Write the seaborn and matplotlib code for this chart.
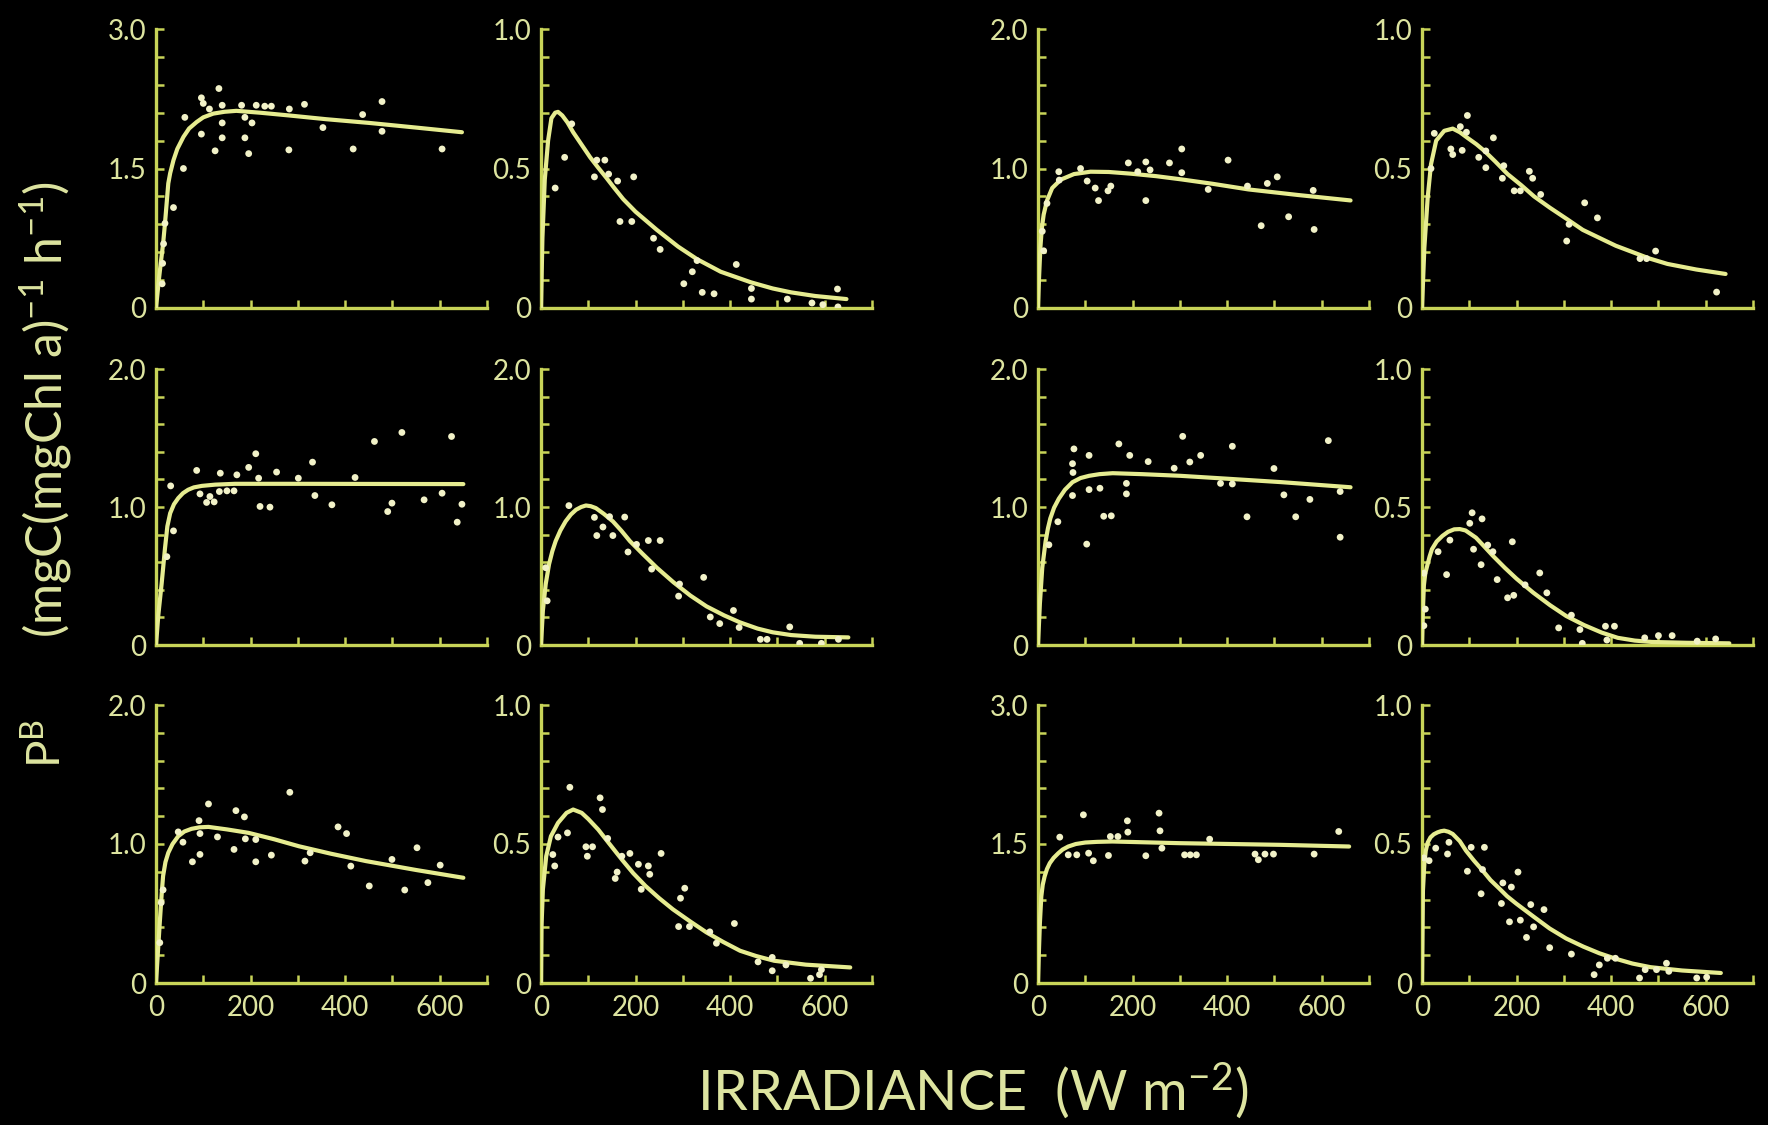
import matplotlib
matplotlib.use("Agg")
import matplotlib.pyplot as plt
import seaborn as sns
from matplotlib.ticker import FixedLocator, FixedFormatter

# ---------------- data ----------------
# Panel 1 (row 1, col 1)
p1_x = [61, 96, 100, 113, 133, 140, 140, 140, 125, 96, 181, 188, 188, 203, 196, 212, 230, 244, 282, 281, 314, 353, 417, 437, 478, 478, 605, 58, 37, 19, 16, 14, 13]
p1_y = [2.05, 2.26, 2.20, 2.14, 2.36, 2.18, 1.99, 1.83, 1.69, 1.87, 2.18, 2.05, 1.83, 1.99, 1.66, 2.18, 2.17, 2.17, 2.14, 1.70, 2.19, 1.94, 1.71, 2.08, 2.22, 1.90, 1.71, 1.50, 1.08, 0.91, 0.69, 0.48, 0.26]
c1_x = [0, 3, 6, 10, 15, 19, 26, 30, 37, 45, 58, 70, 86, 100, 121, 145, 170, 220, 282, 360, 451, 550, 647]
c1_y = [0, 0.15, 0.30, 0.48, 0.69, 0.91, 1.34, 1.45, 1.59, 1.71, 1.84, 1.93, 2.00, 2.05, 2.09, 2.11, 2.12, 2.10, 2.07, 2.03, 1.99, 1.94, 1.89]

# Panel 2 (row 1, col 2)
p2_x = [30, 50, 65, 113, 118, 135, 143, 162, 196, 167, 192, 238, 252, 330, 320, 302, 341, 366, 413, 445, 445, 521, 573, 627, 628, 596]
p2_y = [0.43, 0.54, 0.66, 0.47, 0.53, 0.53, 0.48, 0.455, 0.47, 0.31, 0.31, 0.25, 0.21, 0.17, 0.13, 0.087, 0.056, 0.051, 0.156, 0.07, 0.032, 0.032, 0.018, 0.068, 0.004, 0.012]
c2_x = [0, 3, 8, 15, 22, 30, 36, 45, 56, 68, 90, 104, 120, 139, 155, 174, 200, 245, 290, 330, 380, 444, 490, 529, 580, 646]
c2_y = [0, 0.25, 0.46, 0.60, 0.68, 0.70, 0.703, 0.69, 0.665, 0.63, 0.575, 0.54, 0.505, 0.465, 0.43, 0.39, 0.345, 0.28, 0.22, 0.175, 0.13, 0.092, 0.07, 0.056, 0.043, 0.032]

# Panel 3 (row 1, col 3)
p3_x = [44, 45, 90, 104, 121, 128, 148, 154, 191, 211, 228, 237, 228, 278, 304, 304, 360, 402, 443, 485, 506, 472, 530, 582, 584, 19, 12, 9]
p3_y = [0.977, 0.917, 1.0, 0.91, 0.86, 0.77, 0.84, 0.874, 1.04, 0.977, 1.047, 0.99, 0.77, 1.04, 1.14, 0.97, 0.85, 1.06, 0.874, 0.893, 0.94, 0.59, 0.654, 0.843, 0.563, 0.75, 0.41, 0.55]
c3_x = [0, 2, 5, 8, 12, 19, 30, 48, 76, 111, 150, 196, 250, 303, 370, 445, 550, 661]
c3_y = [0, 0.2, 0.43, 0.57, 0.67, 0.77, 0.86, 0.92, 0.96, 0.977, 0.975, 0.963, 0.945, 0.922, 0.89, 0.85, 0.81, 0.771]

# Panel 4 (row 1, col 4)
p4_x = [26, 61, 65, 85, 81, 94, 96, 151, 120, 135, 135, 173, 170, 195, 208, 227, 234, 251, 344, 371, 311, 306, 461, 475, 494, 623, 19]
p4_y = [0.626, 0.57, 0.55, 0.565, 0.65, 0.63, 0.69, 0.61, 0.54, 0.563, 0.503, 0.51, 0.465, 0.42, 0.42, 0.49, 0.465, 0.407, 0.377, 0.323, 0.30, 0.24, 0.177, 0.177, 0.204, 0.057, 0.50]
c4_x = [0, 5, 12, 19, 30, 47, 65, 80, 96, 115, 132, 155, 181, 210, 237, 270, 308, 340, 378, 410, 449, 480, 519, 580, 642]
c4_y = [0, 0.216, 0.395, 0.515, 0.60, 0.635, 0.643, 0.63, 0.61, 0.587, 0.563, 0.525, 0.48, 0.44, 0.40, 0.36, 0.317, 0.28, 0.249, 0.223, 0.198, 0.178, 0.158, 0.138, 0.122]

# Panel 5 (row 2, col 1)
p5_x = [31, 86, 93, 107, 123, 114, 136, 134, 150, 165, 171, 196, 211, 220, 241, 217, 255, 301, 331, 336, 372, 421, 462, 490, 499, 520, 567, 605, 625, 637, 647, 37, 23]
p5_y = [1.153, 1.265, 1.095, 1.033, 1.037, 1.076, 1.245, 1.112, 1.117, 1.117, 1.233, 1.287, 1.386, 1.004, 0.999, 1.209, 1.253, 1.209, 1.325, 1.083, 1.016, 1.214, 1.475, 0.967, 1.028, 1.54, 1.052, 1.10, 1.511, 0.89, 1.02, 0.827, 0.64]
c5_x = [0, 5, 12, 19, 24, 30, 38, 47, 57, 68, 80, 97, 125, 167, 300, 650]
c5_y = [0, 0.22, 0.447, 0.70, 0.86, 0.955, 1.02, 1.064, 1.10, 1.125, 1.142, 1.153, 1.162, 1.168, 1.168, 1.166]

# Panel 6 (row 2, col 2)
p6_x = [59, 113, 131, 145, 152, 118, 177, 184, 202, 227, 252, 234, 293, 291, 344, 358, 378, 407, 419, 464, 478, 526, 547, 593, 629, 10, 13]
p6_y = [1.01, 0.925, 0.855, 0.93, 0.793, 0.793, 0.927, 0.674, 0.729, 0.757, 0.757, 0.55, 0.442, 0.354, 0.49, 0.203, 0.155, 0.25, 0.127, 0.041, 0.041, 0.131, 0.012, 0.012, 0.041, 0.56, 0.32]
c6_x = [0, 4, 10, 17, 24, 31, 41, 52, 63, 74, 85, 95, 105, 116, 133, 152, 170, 188, 215, 245, 280, 316, 350, 387, 420, 458, 490, 529, 580, 650]
c6_y = [0, 0.25, 0.442, 0.585, 0.68, 0.753, 0.83, 0.896, 0.945, 0.98, 1.0, 1.011, 1.006, 0.992, 0.95, 0.896, 0.828, 0.753, 0.66, 0.56, 0.455, 0.358, 0.28, 0.215, 0.165, 0.119, 0.092, 0.072, 0.06, 0.055]

# Panel 7 (row 2, col 3)
p7_x = [42, 23, 76, 73, 74, 73, 103, 108, 108, 131, 139, 155, 171, 187, 187, 194, 233, 288, 306, 321, 344, 386, 411, 411, 442, 499, 520, 545, 575, 614, 639, 639]
p7_y = [0.893, 0.726, 1.421, 1.314, 1.25, 1.083, 0.731, 1.374, 1.126, 1.136, 0.933, 0.936, 1.457, 1.171, 1.095, 1.374, 1.329, 1.281, 1.512, 1.326, 1.374, 1.171, 1.44, 1.167, 0.929, 1.279, 1.088, 0.929, 1.055, 1.481, 0.781, 1.112]
c7_x = [0, 4, 9, 16, 21, 26, 34, 44, 57, 73, 90, 108, 130, 158, 220, 301, 400, 515, 661]
c7_y = [0, 0.3, 0.56, 0.75, 0.845, 0.917, 0.995, 1.06, 1.125, 1.18, 1.21, 1.226, 1.238, 1.245, 1.238, 1.226, 1.205, 1.18, 1.143]

# Panel 8 (row 2, col 4)
p8_x = [34, 52, 59, 106, 101, 127, 109, 125, 139, 150, 159, 181, 194, 191, 218, 249, 264, 289, 316, 334, 339, 388, 407, 391, 471, 500, 529, 582, 621, 7, 4, 4]
p8_y = [0.338, 0.255, 0.38, 0.479, 0.441, 0.457, 0.347, 0.291, 0.362, 0.338, 0.237, 0.171, 0.18, 0.374, 0.218, 0.261, 0.189, 0.062, 0.108, 0.056, 0.006, 0.068, 0.068, 0.018, 0.026, 0.034, 0.034, 0.014, 0.022, 0.13, 0.07, 0.26]
c8_x = [0, 2, 4, 7, 11, 16, 21, 31, 43, 55, 68, 80, 92, 114, 130, 150, 175, 200, 235, 271, 305, 343, 380, 414, 450, 486, 560, 650]
c8_y = [0, 0.13, 0.216, 0.26, 0.287, 0.32, 0.347, 0.375, 0.395, 0.41, 0.419, 0.42, 0.415, 0.389, 0.36, 0.323, 0.28, 0.24, 0.19, 0.144, 0.105, 0.072, 0.045, 0.026, 0.016, 0.011, 0.008, 0.006]

# Panel 9 (row 3, col 1)
p9_x = [47, 57, 91, 93, 93, 77, 111, 130, 165, 169, 187, 189, 211, 211, 244, 283, 315, 326, 385, 403, 412, 451, 499, 526, 552, 575, 601, 11, 8, 15]
p9_y = [1.087, 1.013, 1.168, 1.075, 0.925, 0.872, 1.288, 1.051, 0.961, 1.24, 1.195, 1.037, 1.032, 0.872, 0.92, 1.372, 0.877, 0.937, 1.123, 1.075, 0.841, 0.698, 0.889, 0.669, 0.973, 0.722, 0.848, 0.578, 0.29, 0.67]
c9_x = [0, 4, 8, 12, 15, 20, 26, 35, 47, 60, 75, 92, 111, 150, 196, 250, 302, 370, 444, 550, 650]
c9_y = [0, 0.22, 0.435, 0.64, 0.77, 0.87, 0.937, 1.0, 1.056, 1.09, 1.109, 1.12, 1.123, 1.105, 1.08, 1.034, 0.984, 0.93, 0.877, 0.813, 0.757]

# Panel 10 (row 3, col 2)
p10_x = [25, 36, 29, 56, 61, 95, 109, 98, 125, 130, 141, 157, 161, 171, 188, 206, 227, 230, 212, 254, 304, 295, 291, 314, 357, 371, 409, 459, 489, 489, 518, 570, 589, 593]
p10_y = [0.462, 0.525, 0.421, 0.54, 0.704, 0.49, 0.49, 0.456, 0.666, 0.624, 0.52, 0.376, 0.399, 0.456, 0.466, 0.427, 0.421, 0.391, 0.337, 0.466, 0.341, 0.305, 0.203, 0.203, 0.184, 0.143, 0.214, 0.076, 0.092, 0.044, 0.065, 0.017, 0.03, 0.048]
c10_x = [0, 1, 4, 11, 21, 36, 54, 68, 86, 100, 121, 145, 171, 195, 221, 250, 279, 315, 350, 385, 421, 455, 493, 560, 654]
c10_y = [0, 0.2, 0.337, 0.456, 0.528, 0.576, 0.612, 0.624, 0.612, 0.59, 0.552, 0.50, 0.444, 0.395, 0.349, 0.305, 0.265, 0.222, 0.182, 0.148, 0.116, 0.097, 0.08, 0.066, 0.056]

# Panel 11 (row 3, col 3)
p11_x = [46, 82, 96, 107, 117, 149, 153, 169, 189, 190, 228, 256, 258, 262, 310, 322, 335, 363, 459, 466, 480, 498, 584, 636, 64]
p11_y = [1.574, 1.383, 1.815, 1.401, 1.319, 1.376, 1.581, 1.581, 1.75, 1.628, 1.373, 1.833, 1.642, 1.455, 1.383, 1.383, 1.383, 1.552, 1.391, 1.33, 1.391, 1.391, 1.391, 1.635, 1.383]
c11_x = [0, 2, 4, 7, 10, 14, 19, 25, 33, 43, 52, 64, 80, 100, 125, 157, 299, 512, 658]
c11_y = [0, 0.35, 0.647, 0.934, 1.06, 1.15, 1.23, 1.294, 1.35, 1.401, 1.44, 1.473, 1.50, 1.516, 1.523, 1.527, 1.509, 1.491, 1.473]

# Panel 12 (row 3, col 4)
p12_x = [15, 29, 54, 57, 96, 104, 132, 128, 125, 171, 168, 189, 203, 185, 208, 221, 230, 236, 258, 270, 316, 375, 364, 392, 409, 460, 472, 496, 517, 522, 581, 602, 4]
p12_y = [0.44, 0.485, 0.464, 0.506, 0.402, 0.488, 0.488, 0.408, 0.321, 0.36, 0.286, 0.345, 0.399, 0.22, 0.226, 0.164, 0.282, 0.202, 0.264, 0.127, 0.104, 0.065, 0.03, 0.089, 0.089, 0.018, 0.048, 0.048, 0.071, 0.042, 0.018, 0.021, 0.45]
c12_x = [0, 2, 5, 8, 12, 18, 25, 33, 40, 47, 56, 65, 80, 93, 110, 128, 145, 164, 180, 199, 235, 270, 305, 341, 375, 412, 445, 483, 550, 632]
c12_y = [0, 0.333, 0.43, 0.476, 0.505, 0.524, 0.535, 0.542, 0.546, 0.548, 0.544, 0.536, 0.51, 0.476, 0.44, 0.405, 0.37, 0.339, 0.312, 0.286, 0.24, 0.196, 0.16, 0.131, 0.107, 0.086, 0.07, 0.057, 0.045, 0.036]

y_max = [3.0, 1.0, 2.0, 1.0, 2.0, 2.0, 2.0, 1.0, 2.0, 1.0, 3.0, 1.0]
y_labels = {3.0: ["0", "1.5", "3.0"], 2.0: ["0", "1.0", "2.0"], 1.0: ["0", "0.5", "1.0"]}
x_tick_labels = ["0", "", "200", "", "400", "", "600", ""]
x_label = "IRRADIANCE  (W m$^{-2}$)"
y_label_pb = "P$^{\\mathrm{B}}$"
y_label_units = "(mgC(mgChl a)$^{-1}$ h$^{-1}$)"

points = [(p1_x, p1_y), (p2_x, p2_y), (p3_x, p3_y), (p4_x, p4_y),
          (p5_x, p5_y), (p6_x, p6_y), (p7_x, p7_y), (p8_x, p8_y),
          (p9_x, p9_y), (p10_x, p10_y), (p11_x, p11_y), (p12_x, p12_y)]
curves = [(c1_x, c1_y), (c2_x, c2_y), (c3_x, c3_y), (c4_x, c4_y),
          (c5_x, c5_y), (c6_x, c6_y), (c7_x, c7_y), (c8_x, c8_y),
          (c9_x, c9_y), (c10_x, c10_y), (c11_x, c11_y), (c12_x, c12_y)]

# ---------------- style ----------------
sns.set_theme(style="dark")
BG = "#000000"
AXC = "#c8d458"
TXT = "#dde4a0"
CURVE = "#e6ec90"
PTS = "#f2f2c8"
plt.rcParams["font.family"] = ["Lato", "DejaVu Sans"]
plt.rcParams["mathtext.fontset"] = "custom"
plt.rcParams["mathtext.rm"] = "Lato"
plt.rcParams["mathtext.it"] = "Lato:italic"
plt.rcParams["mathtext.default"] = "regular"

fig = plt.figure(figsize=(17.68, 11.25), dpi=100, facecolor=BG)

W, H = 1768.0, 1125.0
lefts_px = [156, 541, 1038, 1422]
rows_px = [(29, 308), (369, 645), (705, 983)]
width_px = 331

for i in range(12):
    r, c = divmod(i, 4)
    top, bot = rows_px[r]
    ax = fig.add_axes([lefts_px[c] / W, 1 - bot / H, width_px / W, (bot - top) / H])
    ax.set_facecolor(BG)
    ymax = y_max[i]
    cx, cy = curves[i]
    px, py = points[i]
    sns.lineplot(x=cx, y=cy, ax=ax, color=CURVE, lw=3.0, zorder=3,
                 solid_joinstyle="round", solid_capstyle="round")
    sns.scatterplot(x=px, y=py, ax=ax, color=PTS, s=24, edgecolor="none", zorder=4)
    ax.set_xlim(0, 700)
    ax.set_ylim(0, ymax)
    for s in ["top", "right"]:
        ax.spines[s].set_visible(False)
    for s in ["left", "bottom"]:
        ax.spines[s].set_color(AXC)
        ax.spines[s].set_linewidth(2.4)
    ax.grid(False)
    ax.yaxis.set_major_locator(FixedLocator([0, ymax / 2, ymax]))
    ax.yaxis.set_major_formatter(FixedFormatter(y_labels[ymax]))
    ax.yaxis.set_minor_locator(FixedLocator([ymax * k / 10 for k in range(1, 10) if k != 5]))
    ax.xaxis.set_major_locator(FixedLocator(list(range(0, 800, 100))))
    if r == 2:
        ax.xaxis.set_major_formatter(FixedFormatter(x_tick_labels))
    else:
        ax.xaxis.set_major_formatter(FixedFormatter([""] * 8))
    ax.tick_params(axis="both", which="both", direction="in", colors=AXC,
                   length=6, width=1.8, labelcolor=TXT, labelsize=20,
                   left=True, bottom=True)
    ax.tick_params(axis="y", pad=7)
    ax.tick_params(axis="x", pad=9)
    ax.set_xlabel("")
    ax.set_ylabel("")

fig.text(0.55, 0.031, x_label, color=TXT, fontsize=40, ha="center", va="center")
fig.text(0.026, 0.339, y_label_pb, color=TXT, fontsize=33, ha="center", va="center",
         rotation=90)
fig.text(0.026, 0.636, y_label_units, color=TXT, fontsize=36, ha="center", va="center",
         rotation=90)

fig.savefig("out.png", dpi=100, facecolor=BG)
